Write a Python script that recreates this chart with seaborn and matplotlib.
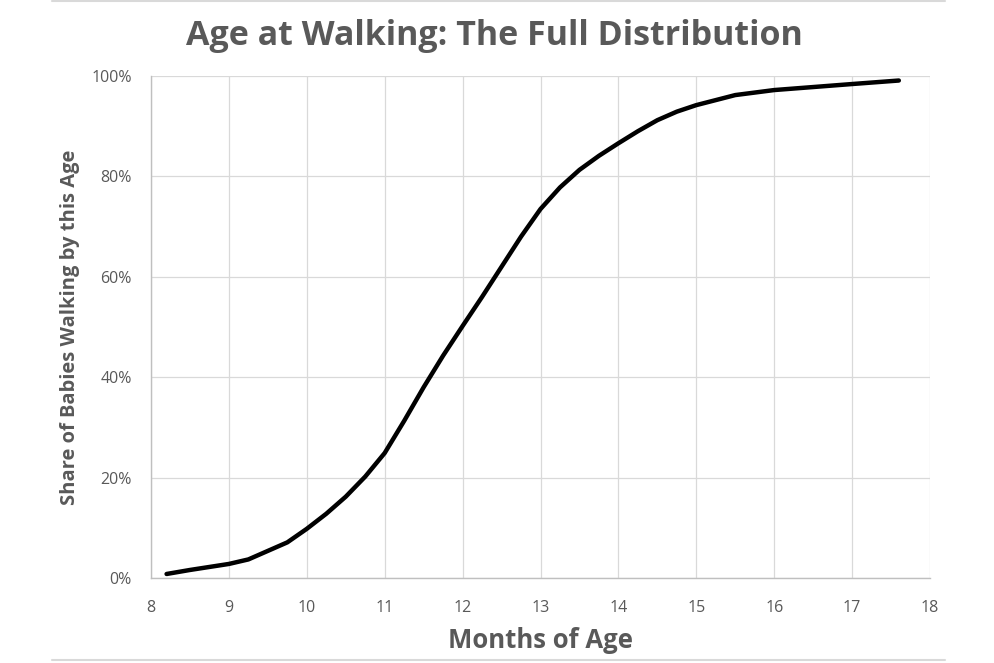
import pandas as pd
import matplotlib.pyplot as plt
import seaborn as sns
from matplotlib.ticker import PercentFormatter
from matplotlib.lines import Line2D

# 数据：月龄与已会走路的婴儿比例（%）
months = [8.2, 8.5, 8.75, 9.0, 9.25, 9.5, 9.75, 10.0, 10.25, 10.5, 10.75,
          11.0, 11.25, 11.5, 11.75, 12.0, 12.25, 12.5, 12.75, 13.0, 13.25,
          13.5, 13.75, 14.0, 14.25, 14.5, 14.75, 15.0, 15.5, 16.0, 16.5,
          17.0, 17.6]
share = [0.8, 1.6, 2.2, 2.8, 3.7, 5.4, 7.1, 9.8, 12.8, 16.2, 20.2,
         24.9, 31.3, 38.0, 44.3, 50.2, 56.0, 62.0, 68.0, 73.5, 77.8,
         81.3, 84.1, 86.6, 89.0, 91.2, 92.9, 94.2, 96.2, 97.2, 97.8,
         98.4, 99.1]
x_ticks = list(range(8, 19))
y_ticks = [0, 20, 40, 60, 80, 100]

df = pd.DataFrame({'Months': months, 'Share': share})

sns.set_style('white')
plt.rcParams['font.family'] = ['Open Sans', 'DejaVu Sans']
grey = '#595959'

fig = plt.figure(figsize=(9.94, 6.63), dpi=100)
ax = fig.add_axes([151 / 994, 1 - 578 / 663, (930 - 151) / 994, (578 - 76) / 663])

sns.lineplot(data=df, x='Months', y='Share', ax=ax, color='black',
             linewidth=3.2, solid_capstyle='round', solid_joinstyle='round')

ax.set_xlim(8, 18)
ax.set_ylim(0, 100)
ax.set_xticks(x_ticks)
ax.set_yticks(y_ticks)
ax.yaxis.set_major_formatter(PercentFormatter(decimals=0))
ax.grid(True, color='#d9d9d9', linewidth=0.9)
for side in ['top', 'right']:
    ax.spines[side].set_visible(False)
for side in ['left', 'bottom']:
    ax.spines[side].set_color('#bfbfbf')
    ax.spines[side].set_linewidth(1)
ax.tick_params(axis='both', length=0, labelsize=11.5, colors=grey)
ax.tick_params(axis='x', pad=16)
ax.tick_params(axis='y', pad=14)

ax.set_xlabel('Months of Age', fontsize=18.5, fontweight='bold', color=grey, labelpad=8)
ax.set_ylabel('Share of Babies Walking by this Age', fontsize=14.5,
              fontweight='bold', color=grey, labelpad=8)
fig.text(0.497, 1 - 36 / 663, 'Age at Walking: The Full Distribution',
         ha='center', va='center', fontsize=24.5, fontweight='bold', color=grey)

# 上下装饰线
fig.add_artist(Line2D([52 / 994, 945 / 994], [1 - 1 / 663, 1 - 1 / 663],
                      color='#d9d9d9', linewidth=1.5))
fig.add_artist(Line2D([52 / 994, 945 / 994], [1 - 660 / 663, 1 - 660 / 663],
                      color='#d9d9d9', linewidth=1.5))

fig.savefig('out.png', dpi=100)
